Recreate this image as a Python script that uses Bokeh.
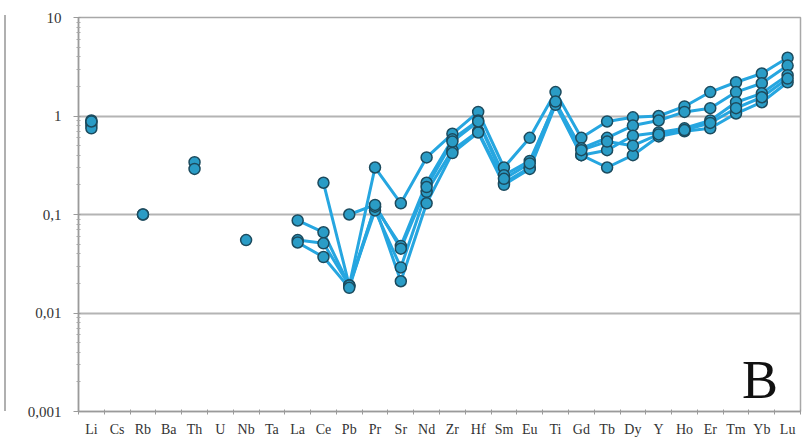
import math

from bokeh.embed import file_html
from bokeh.layouts import row
from bokeh.models import ColumnDataSource, Div, FixedTicker, Label, Range1d
from bokeh.plotting import figure
from bokeh.resources import INLINE

nan = float("nan")

# Trace-element spider diagram (normalised concentrations, log scale)
elements = ["Li", "Cs", "Rb", "Ba", "Th", "U", "Nb", "Ta", "La", "Ce", "Pb", "Pr", "Sr", "Nd",
            "Zr", "Hf", "Sm", "Eu", "Ti", "Gd", "Tb", "Dy", "Y", "Ho", "Er", "Tm", "Yb", "Lu"]

sample_1 = [0.90, nan, nan, nan, 0.34, nan, nan, nan, nan, 0.21, 0.019, 0.30, 0.13, 0.38,
            0.66, 1.10, 0.30, 0.60, 1.75, 0.60, 0.88, 0.97, 1.00, 1.25, 1.75, 2.20, 2.70, 3.90]
sample_2 = [0.85, nan, 0.10, nan, 0.29, nan, 0.055, nan, 0.087, 0.066, 0.019, 0.12, 0.048, 0.21,
            0.58, 0.90, 0.25, 0.35, 1.35, 0.47, 0.60, 0.80, 0.90, 1.10, 1.20, 1.75, 2.15, 3.25]
sample_3 = [0.80, nan, 0.10, nan, nan, nan, nan, nan, 0.055, 0.051, 0.019, 0.11, 0.029, 0.17,
            0.45, 0.70, 0.21, 0.30, 1.35, 0.40, 0.45, 0.63, 0.68, 0.75, 0.90, 1.38, 1.70, 2.60]
sample_4 = [0.75, nan, nan, nan, nan, nan, nan, nan, 0.052, 0.037, 0.018, 0.12, 0.021, 0.13,
            0.42, 0.68, 0.20, 0.29, 1.30, 0.40, 0.30, 0.40, 0.62, 0.70, 0.75, 1.06, 1.38, 2.20]
sample_5 = [0.88, nan, nan, nan, nan, nan, nan, nan, nan, nan, 0.10, 0.125, 0.045, 0.19,
            0.55, 0.88, 0.23, 0.33, 1.40, 0.45, 0.55, 0.50, 0.65, 0.72, 0.85, 1.20, 1.55, 2.40]

samples = [sample_1, sample_2, sample_3, sample_4, sample_5]

y_tick_values = [0.001, 0.01, 0.1, 1, 10]
y_tick_labels = ["0,001", "0,01", "0,1", "1", "10"]

panel_letter = "B"

LINE = "#26a6e0"
FILL = "#2a9cc6"
EDGE = "#1c4b5e"
FONT = "Liberation Serif"

p = figure(
    width=800, height=446,
    x_range=Range1d(-0.5, len(elements) - 0.5),
    y_range=Range1d(0.001, 10),
    y_axis_type="log",
    output_backend="svg",
    toolbar_location=None,
    min_border_left=70, min_border_right=8, min_border_top=17, min_border_bottom=35,
    background_fill_color="white", border_fill_color="white",
    margin=0,
)
p.outline_line_color = "#a8a8a8"
p.outline_line_width = 1.5

# horizontal grid at each decade
p.xgrid.visible = False
p.ygrid.ticker = FixedTicker(ticks=y_tick_values)
p.ygrid.grid_line_color = "#b4b4b4"
p.ygrid.grid_line_width = 2

# category axis: labels at centres, small ticks between categories
xa = p.xaxis[0]
xa.ticker = FixedTicker(ticks=list(range(len(elements))),
                        minor_ticks=[i - 0.5 for i in range(len(elements) + 1)])
xa.major_label_overrides = {i: name for i, name in enumerate(elements)}
xa.major_tick_out = 0
xa.major_tick_in = 0
xa.minor_tick_out = 3
xa.minor_tick_in = 2
xa.minor_tick_line_color = "#9a9a9a"
xa.axis_line_color = "#9a9a9a"
xa.axis_line_width = 1.5
xa.major_label_standoff = 7
xa.major_label_text_font = FONT
xa.major_label_text_font_size = "14px"
xa.major_label_text_color = "#333333"

# logarithmic value axis
ya = p.yaxis[0]
minor = [m * 10.0 ** e for e in range(-3, 1) for m in range(2, 10)]
ya.ticker = FixedTicker(ticks=y_tick_values, minor_ticks=minor)
ya.major_label_overrides = dict(zip(y_tick_values, y_tick_labels))
ya.major_tick_out = 5
ya.major_tick_in = 2
ya.minor_tick_out = 2
ya.minor_tick_in = 2
ya.major_tick_line_color = "#9a9a9a"
ya.minor_tick_line_color = "#a8a8a8"
ya.axis_line_color = "#9a9a9a"
ya.axis_line_width = 1.5
ya.major_label_standoff = 12
ya.major_label_text_font = FONT
ya.major_label_text_font_size = "15px"
ya.major_label_text_color = "#333333"

sources = []
for vals in samples:
    sources.append(ColumnDataSource(dict(x=list(range(len(elements))), y=vals)))

for src in sources:
    p.line("x", "y", source=src, line_color=LINE, line_width=3, line_join="round")
for src in sources:
    p.scatter("x", "y", source=src, size=11, marker="circle",
              fill_color=FILL, line_color=EDGE, line_width=1.5)

p.add_layout(Label(x=25.93, y=0.0021, text=panel_letter, text_font=FONT,
                   text_font_size="54px", text_align="center",
                   text_baseline="alphabetic", text_color="#111111"))

# edge of the neighbouring panel frame, left of the value axis
edge = Div(width=8, height=446, margin=0,
           text='<div style="position:absolute;left:4px;top:15px;width:2px;'
                'height:396px;background:#b0b0b0"></div>')

layout = row(edge, p, spacing=0, margin=0)

open("out.html", "w").write(file_html(layout, INLINE))
